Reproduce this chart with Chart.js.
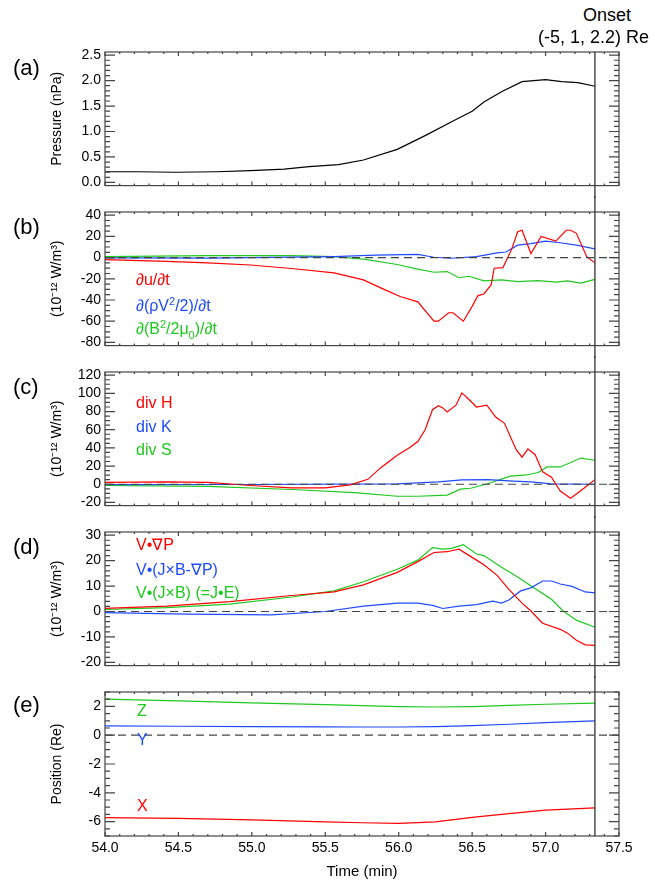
<!DOCTYPE html>
<html>
<head>
<meta charset="utf-8">
<script src="https://cdn.jsdelivr.net/npm/chart.js@4.4.1/dist/chart.umd.min.js"></script>
<style>
  body { margin: 0; background: #fff; width: 655px; height: 882px; position: relative; overflow: hidden;
         font-family: "Liberation Sans", Arial, Helvetica, sans-serif; }
  canvas { position: absolute; left: 0; }
  .txt { position: absolute; white-space: nowrap; line-height: 1; z-index: 5; }
  .tag { font-size: 22px; left: 13px; }
  .leg { font-size: 16px; left: 136px; }
  .leg sup, .leg sub { font-size: 11px; }
  .onset { font-size: 18px; }
</style>
</head>
<body>
<canvas id="pa" width="655" height="162" style="top:36px"></canvas>
<canvas id="pb" width="655" height="162" style="top:196px"></canvas>
<canvas id="pc" width="655" height="162" style="top:356px"></canvas>
<canvas id="pd" width="655" height="162" style="top:516px"></canvas>
<canvas id="pe" width="655" height="206" style="top:676px"></canvas>

<div class="txt onset" style="left:583px;top:6px">Onset</div>
<div class="txt onset" style="left:538px;top:28px">(-5, 1, 2.2) Re</div>

<div class="txt tag" style="top:57px">(a)</div>
<div class="txt tag" style="top:216px">(b)</div>
<div class="txt tag" style="top:376px">(c)</div>
<div class="txt tag" style="top:536px">(d)</div>
<div class="txt tag" style="top:694px">(e)</div>

<div class="txt leg" style="top:272px;color:#ff0000">&part;u/&part;t</div>
<div class="txt leg" style="top:296px;color:#1e4bff">&part;(&rho;V<sup>2</sup>/2)/&part;t</div>
<div class="txt leg" style="top:319px;color:#1ec81e">&part;(B<sup>2</sup>/2&mu;<sub>0</sub>)/&part;t</div>

<div class="txt leg" style="top:395px;color:#ff0000">div H</div>
<div class="txt leg" style="top:419px;color:#1e4bff">div K</div>
<div class="txt leg" style="top:442px;color:#1ec81e">div S</div>

<div class="txt leg" style="top:537px;color:#ff0000">V&bull;&nabla;P</div>
<div class="txt leg" style="top:562px;color:#1e4bff">V&bull;(J&times;B-&nabla;P)</div>
<div class="txt leg" style="top:585px;color:#1ec81e">V&bull;(J&times;B) (=J&bull;E)</div>

<div class="txt leg" style="top:703px;left:137px;color:#1ec81e">Z</div>
<div class="txt leg" style="top:732px;left:137px;color:#1e4bff">Y</div>
<div class="txt leg" style="top:798px;left:137px;color:#ff0000">X</div>

<script>
// time axis (min)
const xTicks = [54.0, 54.5, 55.0, 55.5, 56.0, 56.5, 57.0, 57.5];
const onsetTime = 57.336;

// (a) pressure, nPa
const tPressure = [54.0, 54.22, 54.48, 54.76, 54.99, 55.22, 55.39, 55.59, 55.76, 55.99, 56.18, 56.38, 56.50, 56.58, 56.70, 56.84, 57.0, 57.11, 57.22, 57.336];
const pressure  = [0.21, 0.21, 0.20, 0.21, 0.23, 0.26, 0.31, 0.35, 0.44, 0.65, 0.92, 1.22, 1.40, 1.58, 1.78, 1.98, 2.02, 1.98, 1.96, 1.89];
const pressureTicks = [0.0, 0.5, 1.0, 1.5, 2.0, 2.5];

// (b) time derivatives, 1e-12 W/m^3
const tDuDt = [54.0, 54.42, 54.70, 54.99, 55.27, 55.56, 55.76, 55.90, 56.01, 56.13, 56.24, 56.27, 56.34, 56.37, 56.44, 56.50, 56.54, 56.58, 56.63, 56.65, 56.71, 56.77, 56.81, 56.84, 56.90, 56.97, 57.07, 57.14, 57.17, 57.21, 57.28, 57.336];
const duDt  = [-2, -3.5, -5, -7, -10.3, -14.4, -21, -30, -36.7, -41.7, -60, -60, -52, -52, -60, -46, -35.8, -34.3, -25.5, -10, -9.4, 8.2, 24.4, 25.8, 3.8, 20, 15.6, 25.8, 25.8, 22.9, 0.9, -5];
const tKinDt = [54.0, 54.70, 55.56, 55.84, 56.13, 56.24, 56.36, 56.53, 56.67, 56.73, 56.81, 56.90, 57.0, 57.10, 57.21, 57.336];
const kinDt  = [-0.3, -0.5, 1, 2.3, 3, 0.3, -0.6, 1, 4.4, 5.3, 11.7, 13.2, 15.6, 14, 11.7, 8.2];
const tMagDt = [54.0, 54.70, 55.27, 55.56, 55.76, 55.99, 56.13, 56.24, 56.33, 56.41, 56.48, 56.58, 56.70, 56.81, 56.95, 57.07, 57.15, 57.24, 57.336];
const magDt  = [1, 1.8, 1.8, 0.9, -1.5, -6.5, -10.9, -13.8, -13.2, -19, -17.6, -22, -21, -22.6, -21.7, -23.2, -22, -24, -20.5];
const ticksB = [-80, -60, -40, -20, 0, 20, 40];

// (c) divergences
const tDivH = [54.0, 54.42, 54.70, 54.99, 55.27, 55.50, 55.67, 55.79, 55.88, 55.99, 56.07, 56.13, 56.18, 56.23, 56.27, 56.30, 56.33, 56.39, 56.43, 56.48, 56.53, 56.60, 56.66, 56.72, 56.80, 56.84, 56.88, 56.93, 56.98, 57.04, 57.10, 57.17, 57.21, 57.27, 57.336];
const divH  = [2, 2.7, 2, -1.4, -4, -4, -0.7, 5.4, 18.5, 32, 40, 47, 60, 82, 86.4, 84, 79.6, 87, 100.5, 93, 85, 87, 74, 67, 38, 29.8, 39, 32.2, 13.6, 7.8, -7.5, -15.3, -10.8, -3.4, 5.1];
const tDivK = [54.0, 54.99, 55.99, 56.27, 56.43, 56.61, 56.78, 56.90, 57.04, 57.336];
const divK  = [-0.5, -0.3, 0.5, 2.7, 4.7, 5, 3.5, 2.7, 0.3, 0];
const tDivS = [54.0, 54.70, 55.27, 55.70, 55.99, 56.13, 56.33, 56.42, 56.49, 56.60, 56.76, 56.87, 56.95, 57.01, 57.10, 57.24, 57.336];
const divS  = [-1.4, -2.4, -5.8, -9.2, -13.2, -13.2, -12, -5.4, -4.4, 0.3, 8.9, 10.2, 12.9, 19, 19, 28.8, 26.4];
const ticksC = [-20, 0, 20, 40, 60, 80, 100, 120];

// (d) work terms
const tVGradP = [54.0, 54.42, 54.85, 55.27, 55.56, 55.76, 55.99, 56.13, 56.24, 56.33, 56.41, 56.53, 56.58, 56.67, 56.75, 56.84, 56.90, 56.98, 57.10, 57.15, 57.21, 57.27, 57.336];
const vGradP  = [1.2, 2.1, 3.9, 6.3, 7.7, 10.5, 15.4, 19.6, 23.2, 23.5, 24.5, 20.2, 18.4, 14.2, 8.7, 3.3, 0.2, -4.6, -7, -8.5, -11.3, -13.1, -13.3];
const tVNet = [54.0, 54.56, 55.13, 55.50, 55.76, 55.99, 56.13, 56.23, 56.30, 56.41, 56.53, 56.64, 56.70, 56.75, 56.83, 56.90, 56.98, 57.04, 57.10, 57.18, 57.27, 57.336];
const vNet  = [-0.4, -1, -1.3, 0, 2.1, 3.3, 3.3, 2.4, 1.2, 2.1, 2.7, 4.1, 3.3, 4.5, 8.1, 9.3, 12, 12, 10.8, 9.9, 7.7, 7.3];
const tVJxB = [54.0, 54.42, 54.85, 55.27, 55.56, 55.76, 55.99, 56.13, 56.23, 56.30, 56.36, 56.44, 56.53, 56.58, 56.70, 56.81, 56.92, 57.04, 57.12, 57.21, 57.336];
const vJxB  = [0.8, 1.5, 2.9, 5.7, 8.1, 11.7, 16.6, 20.2, 25.1, 24.5, 24.8, 26.3, 22.6, 22, 17.4, 13.6, 9.3, 4.8, 0.2, -3.4, -6.2];
const ticksD = [-20, -10, 0, 10, 20, 30];

// (e) position, Re
const tPos = [54.0, 54.5, 55.0, 55.5, 55.75, 56.0, 56.25, 56.5, 56.75, 57.0, 57.336];
const posX = [-5.72, -5.78, -5.88, -6.02, -6.08, -6.12, -6.02, -5.70, -5.45, -5.20, -5.04];
const posY = [0.65, 0.62, 0.60, 0.58, 0.57, 0.57, 0.60, 0.66, 0.76, 0.87, 1.00];
const posZ = [2.51, 2.38, 2.25, 2.13, 2.06, 1.99, 1.96, 1.99, 2.07, 2.15, 2.23];
const ticksE = [-6, -4, -2, 0, 2];

const FONT = '"Liberation Sans", Arial, Helvetica, sans-serif';
const RED = '#ff0000', BLUE = '#1e4bff', GREEN = '#1ec81e', BLACK = '#000000';
Chart.defaults.font.family = FONT;
Chart.defaults.color = '#000';

function series(t, v, color) {
  return {
    data: t.map((x, i) => ({x: x, y: v[i]})),
    borderColor: color, borderWidth: 1.2,
    pointRadius: 0, fill: false, tension: 0
  };
}

function isMajor(v, list) {
  return list.some(m => Math.abs(m - v) < 1e-6);
}

// IDL style frame: inward ticks on all four sides, zero line, onset marker
const framePlugin = {
  id: 'frame',
  afterDatasetsDraw(chart, args, o) {
    const {ctx, chartArea: a, scales: {x, y}} = chart;
    ctx.save();
    ctx.strokeStyle = '#444';
    ctx.lineWidth = 1.2;

    if (o.zero) {
      const zy = y.getPixelForValue(0);
      ctx.setLineDash([8, 5]);
      ctx.beginPath(); ctx.moveTo(a.left, zy); ctx.lineTo(a.right, zy); ctx.stroke();
      ctx.setLineDash([]);
    }

    ctx.beginPath();
    // x ticks
    for (let i = Math.ceil(54.0 / 0.1 - 1e-6); i <= Math.floor(57.5 / 0.1 + 1e-6); i++) {
      const v = i * 0.1;
      const px = x.getPixelForValue(v);
      const len = isMajor(v, xTicks) ? 4 : 2;
      ctx.moveTo(px, a.bottom); ctx.lineTo(px, a.bottom - len);
      ctx.moveTo(px, a.top); ctx.lineTo(px, a.top + len);
    }
    // y ticks
    for (let i = Math.ceil(o.yMin / o.minor - 1e-6); i <= Math.floor(o.yMax / o.minor + 1e-6); i++) {
      const v = i * o.minor;
      const py = y.getPixelForValue(v);
      const len = isMajor(v, o.yTicks) ? 10 : 5;
      ctx.moveTo(a.left, py); ctx.lineTo(a.left + len, py);
      ctx.moveTo(a.right, py); ctx.lineTo(a.right - len, py);
    }
    ctx.stroke();

    ctx.strokeRect(a.left, a.top, a.right - a.left, a.bottom - a.top);

    const ox = x.getPixelForValue(onsetTime);
    ctx.strokeStyle = '#333';
    ctx.lineWidth = 1.3;
    ctx.beginPath();
    ctx.moveTo(ox, o.first ? a.top : 0);
    ctx.lineTo(ox, o.last ? a.bottom : chart.height);
    ctx.stroke();
    ctx.restore();
  }
};

function makePanel(id, cfg) {
  const last = id === 'pe';
  new Chart(document.getElementById(id), {
    type: 'line',
    data: { datasets: cfg.datasets },
    options: {
      responsive: false,
      animation: false,
      devicePixelRatio: 1,
      events: [],
      layout: { padding: { left: 0, right: 36, top: 16, bottom: last ? 0 : 2 } },
      scales: {
        x: {
          type: 'linear', min: 54.0, max: 57.5,
          display: last,
          afterBuildTicks: s => { s.ticks = xTicks.map(v => ({value: v})); },
          afterFit: s => { if (last) s.height = 46; },
          grid: { display: false, drawTicks: false },
          border: { display: false },
          ticks: { font: { size: 14 }, padding: 4, maxRotation: 0, callback: v => v.toFixed(1) },
          title: { display: last, text: 'Time (min)', font: { size: 15 }, padding: { top: 0, bottom: 1 } }
        },
        y: {
          type: 'linear', min: cfg.yMin, max: cfg.yMax,
          afterBuildTicks: s => { s.ticks = cfg.yTicks.map(v => ({value: v})); },
          afterFit: s => { s.width = 105; },
          grid: { display: false, drawTicks: false },
          border: { display: false },
          ticks: { font: { size: 14 }, padding: 4, callback: v => v.toFixed(cfg.decimals) },
          title: { display: true, text: cfg.title, font: { size: 14 }, padding: { top: 49, bottom: 0 } }
        }
      },
      plugins: {
        legend: { display: false },
        tooltip: { enabled: false },
        frame: { zero: cfg.zero, yMin: cfg.yMin, yMax: cfg.yMax, minor: cfg.minor, yTicks: cfg.yTicks,
                 first: id === 'pa', last: last }
      }
    },
    plugins: [framePlugin]
  });
}

const unitTitle = '(10\u207B\u00B9\u00B2 W/m\u00B3)';

makePanel('pa', {
  yMin: -0.0625, yMax: 2.5625, yTicks: pressureTicks, minor: 0.1, decimals: 1,
  title: 'Pressure (nPa)', zero: false,
  datasets: [series(tPressure, pressure, BLACK)]
});
makePanel('pb', {
  yMin: -83, yMax: 43, yTicks: ticksB, minor: 5, decimals: 0,
  title: unitTitle, zero: true,
  datasets: [series(tDuDt, duDt, RED), series(tKinDt, kinDt, BLUE), series(tMagDt, magDt, GREEN)]
});
makePanel('pc', {
  yMin: -23.5, yMax: 123.5, yTicks: ticksC, minor: 5, decimals: 0,
  title: unitTitle, zero: true,
  datasets: [series(tDivH, divH, RED), series(tDivK, divK, BLUE), series(tDivS, divS, GREEN)]
});
makePanel('pd', {
  yMin: -21.25, yMax: 31.25, yTicks: ticksD, minor: 2, decimals: 0,
  title: unitTitle, zero: true,
  datasets: [series(tVGradP, vGradP, RED), series(tVNet, vNet, BLUE), series(tVJxB, vJxB, GREEN)]
});
makePanel('pe', {
  yMin: -7, yMax: 3, yTicks: ticksE, minor: 0.5, decimals: 0,
  title: 'Position (Re)', zero: true,
  datasets: [series(tPos, posX, RED), series(tPos, posY, BLUE), series(tPos, posZ, GREEN)]
});
</script>
</body>
</html>
